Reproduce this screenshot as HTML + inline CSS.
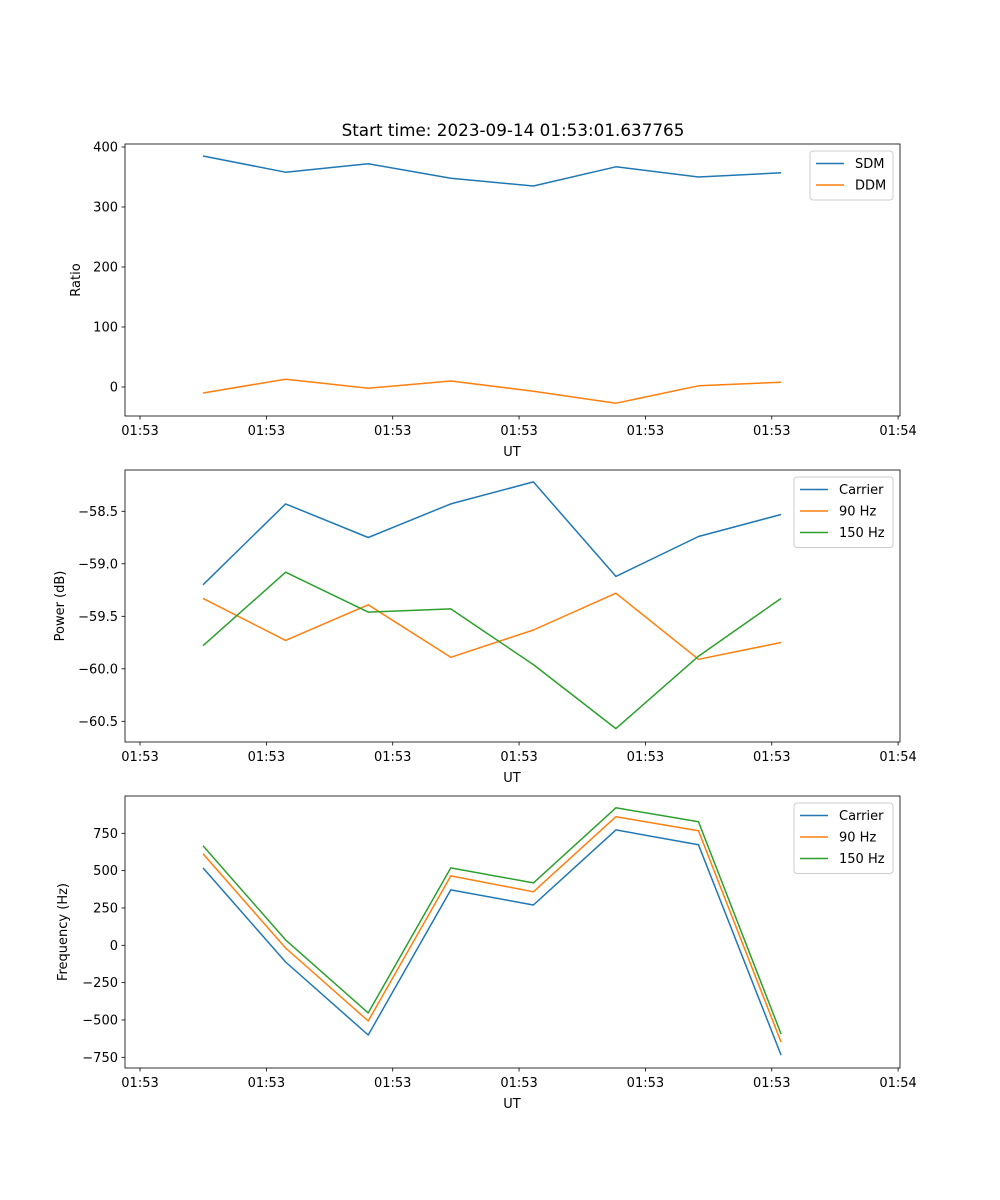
<!DOCTYPE html>
<html><head><meta charset="utf-8"><style>
body{margin:0;background:#fff}
svg{display:block;font-family:"DejaVu Sans","Liberation Sans",sans-serif}
</style></head><body>
<svg id="fig" width="1000" height="1200" viewBox="0 0 1000 1200">
<text x="513" y="136" font-size="16.8" text-anchor="middle">Start time: 2023-09-14 01:53:01.637765</text>
</svg>
<script>
const xIndex=[0,1,2,3,4,5,6,7];
const xTickVals=[-0.763,0.767,2.297,3.827,5.357,6.887,8.417];
const xTickLabels=["01:53","01:53","01:53","01:53","01:53","01:53","01:54"];
const sdm=[385,358,372,348,335,367,350,357];
const ddm=[-10,13,-2,10,-7,-27,2,8];
const pCarrier=[-59.20,-58.43,-58.75,-58.43,-58.22,-59.12,-58.74,-58.53];
const p90=[-59.33,-59.73,-59.39,-59.89,-59.63,-59.28,-59.91,-59.75];
const p150=[-59.78,-59.08,-59.46,-59.43,-59.96,-60.57,-59.88,-59.33];
const fCarrier=[518,-112,-601,371,270,773,673,-735];
const f90=[613,-18,-507,465,358,861,767,-648];
const f150=[666,36,-453,518,418,921,827,-594];
const ratioTicks=[0,100,200,300,400];
const powerTicks=[-60.5,-60.0,-59.5,-59.0,-58.5];
const freqTicks=[-750,-500,-250,0,250,500,750];

const NS="http://www.w3.org/2000/svg";
const svg=document.getElementById('fig');
function mk(tag,attrs,parent){const e=document.createElementNS(NS,tag);for(const k in attrs)e.setAttribute(k,attrs[k]);(parent||svg).appendChild(e);return e;}
const L=125,R=900,X0=-0.945,X1=8.44;
function xs(v){return L+(v-X0)/(X1-X0)*(R-L);}
const C=['#1f77b4','#ff7f0e','#2ca02c'];

function panel(cfg){
  const g=mk('g',{});
  
  
  const ys=v=>cfg.y0px+(v-cfg.v0)*(cfg.y1px-cfg.y0px)/(cfg.v1-cfg.v0);
  cfg.series.forEach((s,si)=>{
    const pts=s.data.map((v,i)=>xs(xIndex[i]).toFixed(1)+','+ys(v).toFixed(1)).join(' ');
    const pl=mk('polyline',{points:pts,fill:'none',stroke:C[si],'stroke-width':1.5,'stroke-linejoin':'round'},g);
    
    
  });
  const fr=mk('rect',{x:L,y:cfg.top,width:R-L,height:cfg.bot-cfg.top,fill:'none',stroke:'#000','stroke-width':0.8},g);
  
  
  cfg.yt.forEach(v=>{
    const y=ys(v);
    mk('line',{x1:L-3.5,x2:L,y1:y,y2:y,stroke:'#000','stroke-width':0.8},g);
    const t=mk('text',{x:L-7,y:y+4.5,'font-size':13,'text-anchor':'end'},g);
    t.textContent=cfg.fmt(v).replace('-','\u2212');
    
    
  });
  xTickVals.forEach((v,i)=>{
    const x=xs(v);
    mk('line',{x1:x,x2:x,y1:cfg.bot,y2:cfg.bot+3.5,stroke:'#000','stroke-width':0.8},g);
    const t=mk('text',{x:x,y:cfg.bot+19,'font-size':13,'text-anchor':'middle'},g);
    t.textContent=xTickLabels[i];
    
    
  });
  const xl=mk('text',{x:512,y:cfg.bot+40,'font-size':13,'text-anchor':'middle'},g);
  xl.textContent='UT';
  
  
  const cy=(cfg.top+cfg.bot)/2;
  const yl=mk('text',{x:cfg.ylx,y:cy,'font-size':13,'text-anchor':'middle',transform:`rotate(-90 ${cfg.ylx} ${cy})`},g);
  yl.textContent=cfg.ylabel;
  
  
  const lg=mk('g',{},g);
  
  
  const n=cfg.series.length;
  mk('rect',{x:cfg.lx,y:cfg.top+7,width:893-cfg.lx,height:8+n*21.5-2,fill:'#fff',stroke:'#ccc','stroke-width':1,rx:3},lg);
  cfg.series.forEach((s,si)=>{
    const yy=cfg.top+7+12.5+si*21.5;
    const e=mk('g',{},lg);
    
    
    mk('line',{x1:cfg.lx+6,x2:cfg.lx+34,y1:yy,y2:yy,stroke:C[si],'stroke-width':1.5},e);
    const t=mk('text',{x:cfg.lx+45,y:yy+4.5,'font-size':13},e);
    t.textContent=s.label;
  });
}
panel({name:'ratio-panel',top:144,bot:416,v0:0,v1:400,y0px:387,y1px:147,yt:ratioTicks,fmt:v=>String(v),ylabel:'Ratio',ylx:80,lx:810,
  series:[{key:'sdm',label:'SDM',data:sdm},{key:'ddm',label:'DDM',data:ddm}]});
panel({name:'power-panel',top:470,bot:742,v0:-58.5,v1:-60.5,y0px:511.3,y1px:721.3,yt:powerTicks,fmt:v=>v.toFixed(1),ylabel:'Power (dB)',ylx:64,lx:794,
  series:[{key:'carrier',label:'Carrier',data:pCarrier},{key:'90hz',label:'90 Hz',data:p90},{key:'150hz',label:'150 Hz',data:p150}]});
panel({name:'frequency-panel',top:796,bot:1068,v0:750,v1:-750,y0px:833.3,y1px:1057.3,yt:freqTicks,fmt:v=>String(v),ylabel:'Frequency (Hz)',ylx:67,lx:794,
  series:[{key:'carrier',label:'Carrier',data:fCarrier},{key:'90hz',label:'90 Hz',data:f90},{key:'150hz',label:'150 Hz',data:f150}]});
</script>
</body></html>
